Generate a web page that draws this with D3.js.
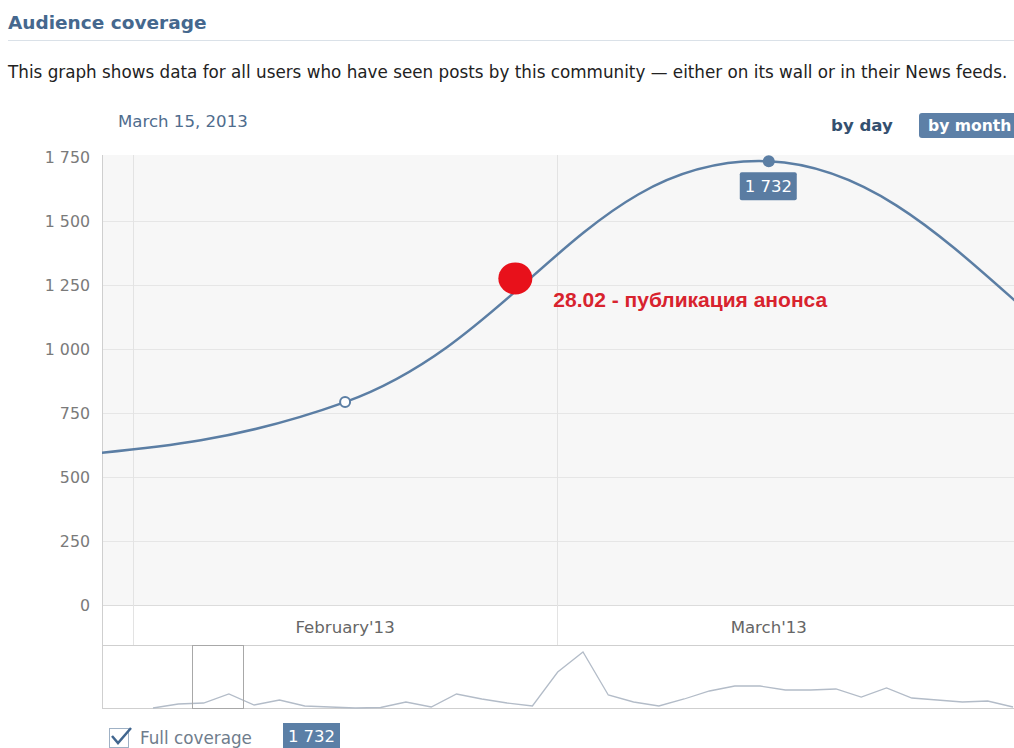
<!DOCTYPE html>
<html lang="en">
<head>
<meta charset="UTF-8">
<title>Audience coverage</title>
<script src="https://d3js.org/d3.v7.min.js"></script>
<style>
  body { margin: 0; background: #fff; overflow: hidden; }
  text { font-family: Tahoma, "DejaVu Sans", sans-serif; }
</style>
</head>
<body>
<script>
// monthly audience reach (points sit on the 15th of each month)
var months = ["2012-12-15", "2013-01-15", "2013-02-15", "2013-03-15", "2013-04-15", "2013-05-15"];
var reach = [40, 480, 792, 1732, 650, 990];

var yTicks = [0, 250, 500, 750, 1000, 1250, 1500, 1750];
var monthStarts = ["2013-02-01", "2013-03-01"];
var monthLabelDates = ["2013-02-15", "2013-03-15"];
var monthLabels = ["February'13", "March'13"];
var viewRange = ["2013-01-30", "2013-04-01"];

var hoverDate = "2013-02-15";
var selectedDate = "2013-03-15";

// hand-drawn note on the screenshot
var noteDate = "2013-02-26T06:00";
var noteValue = 1275;
var noteText = "28.02 - публикация анонса";

// overview strip under the chart
var overview = [0, 40, 50, 140, 30, 80, 20, 10, 0, 5, 60, 10, 140, 90, 50, 20, 360, 560,
                130, 60, 20, 90, 170, 220, 220, 180, 180, 190, 110, 200, 100, 80, 60, 70, 10];
var overviewWindow = [1.55, 3.55];

var parseDay = d3.utcParse("%Y-%m-%d");
var parseTime = d3.utcParse("%Y-%m-%dT%H:%M");
var fmt = d3.formatLocale({ decimal: ".", thousands: " ", grouping: [3], currency: ["", ""] }).format(",");
var fmtDate = d3.utcFormat("%B %-d, %Y");

var data = months.map(function(m, i) { return { date: parseDay(m), value: reach[i] }; });
function valueAt(day) {
    var t = +parseDay(day);
    return data.filter(function(d) { return +d.date === t; })[0];
}

var W = 1014, H = 748;
var lineColor = "#5b7ea4";
var plotLeft = 102, plotTop = 155, plotZero = 605, bandBottom = 645, navBottom = 708;

var svg = d3.select("body").append("svg")
    .attr("width", W)
    .attr("height", H);

var x = d3.scaleUtc()
    .domain(viewRange.map(parseDay))
    .range([103, 1026]);

var y = d3.scaleLinear()
    .domain([0, 1750])
    .range([plotZero, 156.7]);

// header
svg.append("text")
    .attr("x", 8).attr("y", 29)
    .style("font-size", "18.5px").style("font-weight", "bold")
    .attr("fill", "#45688e")
    .text("Audience coverage");

svg.append("line")
    .attr("x1", 8).attr("x2", W).attr("y1", 40.5).attr("y2", 40.5)
    .attr("stroke", "#dae1e8");

svg.append("text")
    .attr("x", 8).attr("y", 78)
    .style("font-size", "16.8px")
    .attr("fill", "#222")
    .text("This graph shows data for all users who have seen posts by this community \u2014 either on its wall or in their News feeds.");

svg.append("text")
    .attr("x", 118).attr("y", 127)
    .style("font-size", "16.6px")
    .attr("fill", "#4f6c8d")
    .text(fmtDate(parseDay(selectedDate)));

svg.append("text")
    .attr("x", 831).attr("y", 131)
    .style("font-size", "16.6px").style("font-weight", "bold")
    .attr("fill", "#34506f")
    .text("by day");

svg.append("rect")
    .attr("x", 919).attr("y", 113).attr("width", 120).attr("height", 25).attr("rx", 3)
    .attr("fill", "#5d80a7");
svg.append("text")
    .attr("x", 928).attr("y", 131)
    .style("font-size", "15.6px").style("font-weight", "bold")
    .attr("fill", "#fff")
    .text("by month");

// plot background
svg.append("rect")
    .attr("x", plotLeft).attr("y", plotTop)
    .attr("width", W - plotLeft).attr("height", plotZero - plotTop)
    .attr("fill", "#f7f7f7");

// grid
svg.append("g")
    .selectAll("line")
    .data(yTicks.filter(function(v) { return v < 1750; }))
    .enter().append("line")
    .attr("x1", plotLeft).attr("x2", W)
    .attr("y1", function(d) { return Math.round(y(d)) + 0.5; })
    .attr("y2", function(d) { return Math.round(y(d)) + 0.5; })
    .attr("stroke", function(d) { return d === 0 ? "#dcdcdc" : "#e6e6e6"; });

svg.append("g")
    .selectAll("line")
    .data(monthStarts.map(parseDay))
    .enter().append("line")
    .attr("x1", function(d) { return Math.round(x(d)) + 0.5; })
    .attr("x2", function(d) { return Math.round(x(d)) + 0.5; })
    .attr("y1", plotTop).attr("y2", bandBottom)
    .attr("stroke", "#e3e3e3");

svg.append("line")
    .attr("x1", plotLeft + 0.5).attr("x2", plotLeft + 0.5)
    .attr("y1", plotTop).attr("y2", navBottom)
    .attr("stroke", "#cfcfcf");
svg.append("line")
    .attr("x1", plotLeft).attr("x2", W)
    .attr("y1", bandBottom + 0.5).attr("y2", bandBottom + 0.5)
    .attr("stroke", "#cfcfcf");
svg.append("line")
    .attr("x1", plotLeft).attr("x2", W)
    .attr("y1", navBottom + 0.5).attr("y2", navBottom + 0.5)
    .attr("stroke", "#cfcfcf");

// y labels
svg.append("g")
    .selectAll("text")
    .data(yTicks)
    .enter().append("text")
    .attr("x", 90)
    .attr("y", function(d) { return y(d) + 6; })
    .attr("text-anchor", "end")
    .style("font-size", "15.8px")
    .attr("fill", "#7a7a7a")
    .text(function(d) { return fmt(d); });

// month labels
svg.append("g")
    .selectAll("text")
    .data(monthLabels)
    .enter().append("text")
    .attr("x", function(d, i) { return x(parseDay(monthLabelDates[i])); })
    .attr("y", 633)
    .attr("text-anchor", "middle")
    .style("font-size", "16.6px")
    .attr("fill", "#666")
    .text(function(d) { return d; });

// curve
svg.append("clipPath").attr("id", "plotClip")
    .append("rect")
    .attr("x", plotLeft).attr("y", plotTop - 10)
    .attr("width", W - plotLeft).attr("height", plotZero - plotTop + 10);

var line = d3.line()
    .x(function(d) { return x(d.date); })
    .y(function(d) { return y(d.value); })
    .curve(d3.curveCardinal.tension(-0.2));

svg.append("path")
    .datum(data)
    .attr("clip-path", "url(#plotClip)")
    .attr("d", line)
    .attr("fill", "none")
    .attr("stroke", lineColor)
    .attr("stroke-width", 2.5);

var hover = valueAt(hoverDate);
svg.append("circle")
    .attr("cx", x(hover.date)).attr("cy", y(hover.value)).attr("r", 5)
    .attr("fill", "#fff").attr("stroke", lineColor).attr("stroke-width", 2);

var sel = valueAt(selectedDate);
svg.append("circle")
    .attr("cx", x(sel.date)).attr("cy", y(sel.value)).attr("r", 6)
    .attr("fill", lineColor);
svg.append("rect")
    .attr("x", x(sel.date) - 29).attr("y", y(sel.value) + 11)
    .attr("width", 57).attr("height", 28).attr("rx", 2)
    .attr("fill", "#5a7ca2");
svg.append("text")
    .attr("x", x(sel.date) - 0.5).attr("y", y(sel.value) + 31)
    .attr("text-anchor", "middle")
    .style("font-size", "16.5px")
    .attr("fill", "#fff")
    .text(fmt(sel.value));

// note
var nx = x(parseTime(noteDate)), ny = y(noteValue);
svg.append("ellipse")
    .attr("cx", nx).attr("cy", ny).attr("rx", 17).attr("ry", 16)
    .attr("fill", "#e8111b");
svg.append("text")
    .attr("x", nx + 38).attr("y", ny + 29)
    .style("font-family", "'Liberation Sans', Arial, sans-serif")
    .style("font-size", "21px").style("font-weight", "bold")
    .attr("fill", "#d8232e")
    .text(noteText);

// overview strip
var nx0 = d3.scaleLinear().domain([0, overview.length - 1]).range([153, 1013]);
var ny0 = d3.scaleLinear().domain([0, 630]).range([navBottom, bandBottom]);

svg.append("path")
    .datum(overview)
    .attr("d", d3.line()
        .x(function(d, i) { return nx0(i); })
        .y(function(d) { return ny0(d); }))
    .attr("fill", "none")
    .attr("stroke", "#b3bcc8")
    .attr("stroke-width", 1.3);

svg.append("rect")
    .attr("x", Math.round(nx0(overviewWindow[0])) + 0.5).attr("y", bandBottom + 0.5)
    .attr("width", Math.round(nx0(overviewWindow[1]) - nx0(overviewWindow[0])))
    .attr("height", navBottom - bandBottom)
    .attr("fill", "none")
    .attr("stroke", "#a8a8a8");

// legend
var legend = svg.append("g");
legend.append("rect")
    .attr("x", 109.5).attr("y", 728.5).attr("width", 19).attr("height", 19)
    .attr("fill", "#fff").attr("stroke", "#9fb1c5");
legend.append("path")
    .attr("d", "M112,736 L118,743 L131,728")
    .attr("fill", "none").attr("stroke", "#41668f").attr("stroke-width", 2.5);
legend.append("text")
    .attr("x", 140).attr("y", 744)
    .style("font-size", "16.8px")
    .attr("fill", "#6f7d8c")
    .text("Full coverage");
legend.append("rect")
    .attr("x", 283).attr("y", 723).attr("width", 57).attr("height", 25)
    .attr("fill", "#5b7fa6");
legend.append("text")
    .attr("x", 311.5).attr("y", 742)
    .attr("text-anchor", "middle")
    .style("font-size", "16.5px")
    .attr("fill", "#fff")
    .text(fmt(sel.value));
</script>
</body>
</html>
